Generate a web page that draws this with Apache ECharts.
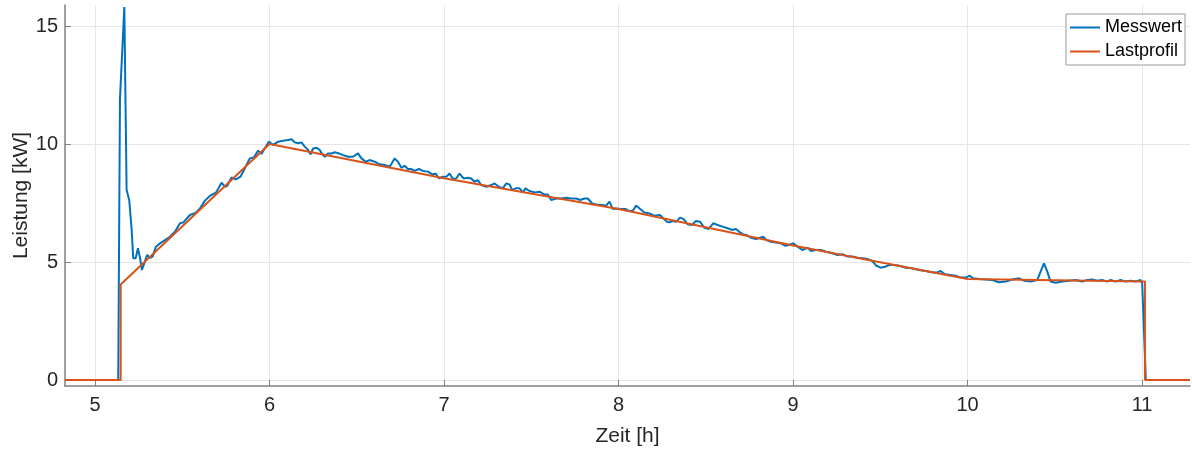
<!DOCTYPE html>
<html>
<head>
<meta charset="utf-8">
<script src="https://cdn.jsdelivr.net/npm/echarts@6/dist/echarts.min.js"></script>
<style>
  html, body { margin: 0; padding: 0; background: #fff; }
  #chart { width: 1192px; height: 450px; }
</style>
</head>
<body>
<div id="chart"></div>
<script>
// Messwert (measured power), time in hours, power in kW
const messTime = [
  4.828, 5.133, 5.143, 5.168, 5.181, 5.196, 5.210, 5.219, 5.233, 5.246, 5.258, 5.269, 5.282, 5.299, 5.315, 5.330,
  5.349, 5.372, 5.401, 5.429, 5.458, 5.487, 5.505, 5.544, 5.578, 5.601, 5.630, 5.658, 5.693, 5.725, 5.744, 5.757,
  5.782, 5.807, 5.834, 5.859, 5.887, 5.910, 5.935, 5.954, 5.973, 5.996, 6.021, 6.049, 6.078, 6.106, 6.126, 6.145,
  6.164, 6.183, 6.202, 6.221, 6.235, 6.250, 6.269, 6.288, 6.303, 6.317, 6.335, 6.355, 6.374, 6.398, 6.421, 6.450,
  6.479, 6.507, 6.527, 6.551, 6.574, 6.603, 6.631, 6.660, 6.689, 6.717, 6.736, 6.756, 6.774, 6.793, 6.813, 6.832,
  6.856, 6.879, 6.908, 6.933, 6.952, 6.971, 6.990, 7.013, 7.032, 7.051, 7.070, 7.089, 7.112, 7.137, 7.156, 7.175,
  7.194, 7.213, 7.242, 7.271, 7.290, 7.314, 7.337, 7.357, 7.375, 7.391, 7.410, 7.433, 7.452, 7.467, 7.490, 7.519,
  7.547, 7.576, 7.595, 7.614, 7.643, 7.671, 7.700, 7.729, 7.757, 7.780, 7.805, 7.824, 7.849, 7.872, 7.900, 7.929,
  7.948, 7.967, 7.986, 8.015, 8.039, 8.062, 8.081, 8.101, 8.124, 8.148, 8.177, 8.205, 8.238, 8.253, 8.276, 8.295,
  8.310, 8.330, 8.353, 8.373, 8.396, 8.421, 8.444, 8.467, 8.492, 8.516, 8.543, 8.568, 8.596, 8.625, 8.650, 8.673,
  8.692, 8.715, 8.734, 8.759, 8.788, 8.810, 8.829, 8.848, 8.873, 8.902, 8.931, 8.955, 8.978, 9.001, 9.026, 9.054,
  9.083, 9.102, 9.131, 9.160, 9.188, 9.226, 9.255, 9.283, 9.312, 9.341, 9.369, 9.398, 9.426, 9.455, 9.478, 9.503,
  9.528, 9.551, 9.579, 9.608, 9.646, 9.684, 9.722, 9.761, 9.798, 9.827, 9.846, 9.871, 9.904, 9.932, 9.961, 9.990,
  10.013, 10.031, 10.066, 10.104, 10.142, 10.180, 10.219, 10.256, 10.295, 10.323, 10.362, 10.400, 10.419, 10.438, 10.457, 10.476,
  10.505, 10.543, 10.581, 10.619, 10.657, 10.686, 10.714, 10.743, 10.772, 10.800, 10.820, 10.848, 10.877, 10.905, 10.934, 10.963,
  10.991, 11.001, 11.022, 11.275
];
const messValue = [
  0, 0, 11.9, 15.8, 8.05, 7.63, 6.36, 5.16, 5.16, 5.58, 5.17, 4.66, 4.94, 5.3, 5.18, 5.23,
  5.65, 5.79, 5.93, 6.07, 6.28, 6.64, 6.67, 6.99, 7.09, 7.27, 7.6, 7.8, 7.94, 8.36, 8.19, 8.22,
  8.58, 8.5, 8.62, 8.97, 9.39, 9.43, 9.72, 9.58, 9.82, 10.1, 9.96, 10.1, 10.14, 10.17, 10.2, 10.07,
  10.03, 10.07, 9.89, 9.75, 9.56, 9.81, 9.84, 9.75, 9.56, 9.46, 9.6, 9.6, 9.65, 9.6, 9.53, 9.46,
  9.46, 9.6, 9.39, 9.25, 9.32, 9.25, 9.14, 9.11, 9.04, 9.39, 9.25, 8.99, 9.08, 8.94, 8.94, 8.86,
  8.94, 8.86, 8.83, 8.71, 8.75, 8.54, 8.61, 8.61, 8.75, 8.52, 8.54, 8.75, 8.54, 8.57, 8.54, 8.4,
  8.47, 8.26, 8.19, 8.26, 8.33, 8.19, 8.12, 8.33, 8.29, 8.05, 8.12, 8.12, 7.95, 8.12, 8.01, 7.95,
  7.98, 7.86, 7.86, 7.63, 7.69, 7.69, 7.72, 7.69, 7.69, 7.63, 7.69, 7.69, 7.48, 7.44, 7.42, 7.39,
  7.56, 7.25, 7.27, 7.25, 7.25, 7.16, 7.16, 7.39, 7.25, 7.1, 7.06, 6.96, 6.99, 6.88, 6.71, 6.68,
  6.74, 6.71, 6.88, 6.82, 6.6, 6.57, 6.74, 6.71, 6.45, 6.4, 6.64, 6.57, 6.5, 6.43, 6.36, 6.4,
  6.28, 6.17, 6.14, 6.03, 5.97, 6.03, 6.07, 5.93, 5.86, 5.83, 5.79, 5.69, 5.72, 5.79, 5.65, 5.51,
  5.61, 5.47, 5.51, 5.51, 5.44, 5.37, 5.3, 5.33, 5.23, 5.23, 5.18, 5.16, 5.13, 5.04, 4.84, 4.76,
  4.8, 4.87, 4.87, 4.84, 4.76, 4.73, 4.66, 4.62, 4.56, 4.56, 4.62, 4.48, 4.45, 4.42, 4.34, 4.34,
  4.42, 4.31, 4.28, 4.26, 4.24, 4.14, 4.17, 4.26, 4.31, 4.21, 4.17, 4.24, 4.59, 4.94, 4.59, 4.17,
  4.12, 4.17, 4.21, 4.24, 4.17, 4.24, 4.26, 4.21, 4.24, 4.17, 4.24, 4.17, 4.24, 4.17, 4.21, 4.17,
  4.24, 4.1, 0, 0
];

// Lastprofil (load profile)
const profilTime = [4.828, 5.147, 5.147, 6.0, 7.0, 8.0, 9.0, 10.0, 11.017, 11.017, 11.275];
const profilValue = [0, 0, 4.05, 10.0, 8.55, 7.25, 5.7, 4.28, 4.17, 0, 0];

const xTicks = [5, 6, 7, 8, 9, 10, 11];
const yTicks = [0, 5, 10, 15];

const zip = (xs, ys) => xs.map((x, i) => [x, ys[i]]);

const font = "'Liberation Sans', Arial, sans-serif";
const chart = echarts.init(document.getElementById("chart"));
chart.setOption({
  animation: false,
  backgroundColor: "#fff",
  grid: { left: 65, right: 2, top: 5, bottom: 64, containLabel: false, outerBoundsMode: "none" },
  legend: {
    orient: "vertical",
    right: 7,
    top: 14,
    icon: "rect",
    itemWidth: 30,
    itemHeight: 2,
    itemGap: 5,
    padding: [4, 3, 4, 4],
    borderColor: "#9a9a9a",
    borderWidth: 1,
    backgroundColor: "#fff",
    textStyle: { fontFamily: font, fontSize: 18, color: "#000", lineHeight: 19 },
    data: ["Messwert", "Lastprofil"],
  },
  xAxis: {
    type: "value",
    min: 4.828,
    max: 11.275,
    name: "Zeit [h]",
    nameLocation: "middle",
    nameGap: 40,
    nameMoveOverlap: false,
    nameTextStyle: { fontFamily: font, fontSize: 21, color: "#262626" },
    axisLine: { onZero: false, lineStyle: { color: "#808080", width: 1.5 } },
    axisTick: { inside: true, length: 6, customValues: xTicks, lineStyle: { color: "#808080" } },
    axisLabel: { customValues: xTicks, margin: 9, fontFamily: font, fontSize: 20, color: "#262626" },
    splitLine: { show: true, lineStyle: { color: "#e6e6e6", width: 1 } },
  },
  yAxis: {
    type: "value",
    min: -0.254,
    max: 15.89,
    name: "Leistung [kW]",
    nameLocation: "middle",
    nameGap: 33,
    nameMoveOverlap: false,
    nameTextStyle: { fontFamily: font, fontSize: 21, color: "#262626" },
    axisLine: { show: true, onZero: false, lineStyle: { color: "#808080", width: 1.5 } },
    axisTick: { show: true, inside: true, length: 6, customValues: yTicks, lineStyle: { color: "#808080" } },
    axisLabel: { customValues: yTicks, margin: 7, fontFamily: font, fontSize: 20, color: "#262626" },
    splitLine: { show: true, lineStyle: { color: "#e6e6e6", width: 1 } },
  },
  series: [
    {
      name: "Messwert",
      type: "line",
      symbol: "none",
      data: zip(messTime, messValue),
      lineStyle: { color: "#0072BD", width: 2 },
      itemStyle: { color: "#0072BD" },
      z: 2,
    },
    {
      name: "Lastprofil",
      type: "line",
      symbol: "none",
      data: zip(profilTime, profilValue),
      lineStyle: { color: "#D95319", width: 2 },
      itemStyle: { color: "#D95319" },
      z: 3,
    },
  ],
});
</script>
</body>
</html>
